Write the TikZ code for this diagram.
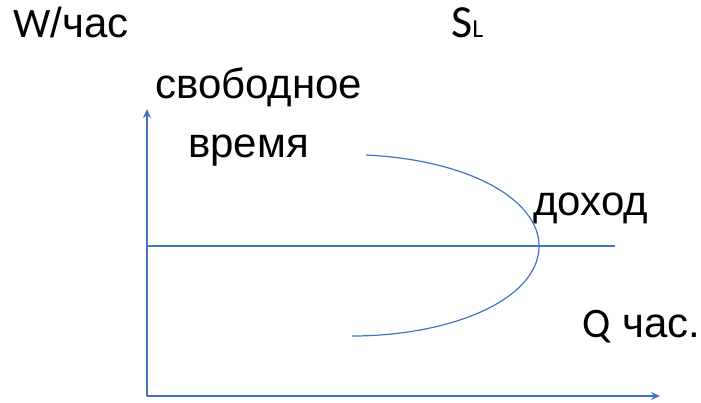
\documentclass[tikz,border=0pt]{standalone}
\usepackage{fontspec}
\setmainfont{Liberation Sans}
\newfontfamily\latinfont{Carlito}
\usepackage{tikz}
\usetikzlibrary{arrows.meta}
\definecolor{officeblue}{HTML}{4472C4}
\tikzset{
  axis line/.style={draw=officeblue,line width=2pt,-{Stealth[length=9pt,width=8pt]}},
  thin line/.style={draw=officeblue,line width=1.2pt},
  label text/.style={anchor=base west,inner sep=0pt,font=\fontsize{42}{50}\selectfont},
}

\begin{document}
\begin{tikzpicture}[x=1pt,y=-1pt]
    \useasboundingbox (0,0) rectangle (701,402);
    % vertices
    \coordinate (o) at (147,396);
    \coordinate (ytop) at (147,109);
    \coordinate (xend) at (660,396);
    \coordinate (ml) at (147,246);
    \coordinate (mr) at (615,246);
    \coordinate (ctop) at (366,155);
    \coordinate (cmid) at (539,246);
    \coordinate (cbot) at (352,336);
    % labels
    \node [label text] (wage) at (13,37) {{\latinfont W}/час};
    \node [label text] (sl) at (451,37) {\latinfont\fontsize{46}{54}\selectfont S\fontsize{26}{30}\selectfont L};
    \node [label text] (free) at (155,98) {свободное};
    \node [label text] (time) at (188,157) {время};
    \node [label text] (income) at (533,215) {доход};
    \node [label text] (qh) at (582,337) {{\latinfont Q} час.};
    % diagram
    \draw [axis line] (o) -- (ytop);
    \draw [axis line] (o) -- (xend);
    \draw [thin line] (ml) -- (mr);
    \draw [thin line] (ctop) .. controls (470,160) and (539,200) .. (cmid)
        .. controls (539,300) and (450,336) .. (cbot);
\end{tikzpicture}
\end{document}
